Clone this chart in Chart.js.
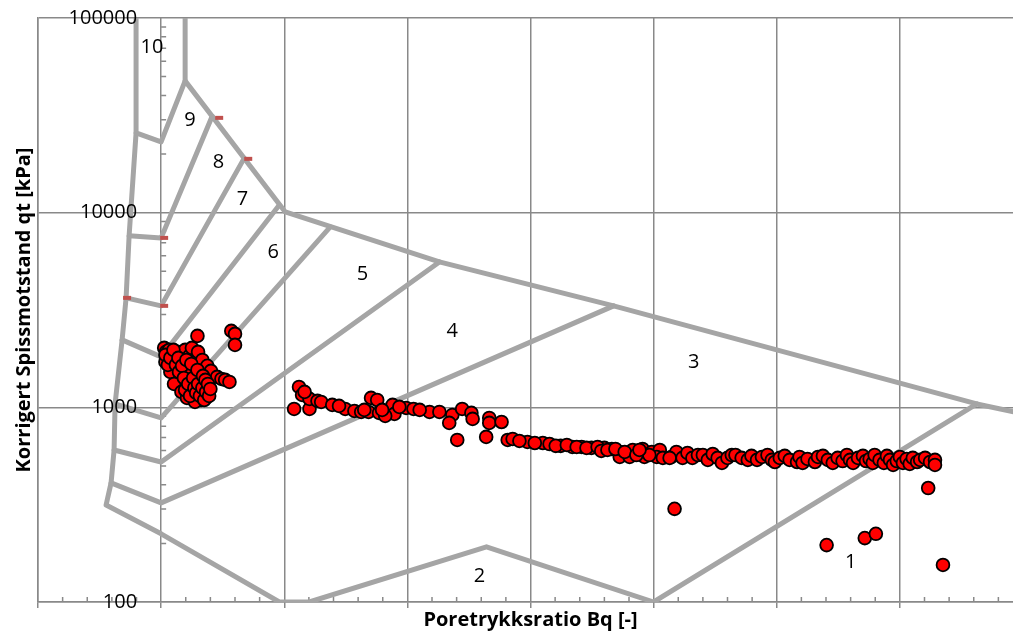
<!DOCTYPE html>
<html>
<head>
<meta charset="utf-8">
<script src="https://cdn.jsdelivr.net/npm/chart.js@4.4.0/dist/chart.umd.min.js"></script>
<style>
  html, body { margin: 0; padding: 0; background: #fff; overflow: hidden; }
  #wrap { width: 1035px; height: 633px; }
</style>
</head>
<body>
<div id="wrap"><canvas id="myChart"></canvas></div>
<script>
// axis ticks
const bqTicks = [-0.2, 0, 0.2, 0.4, 0.6, 0.8, 1.0, 1.2, 1.4];
const bqMinor = [-0.16, -0.12, -0.08, -0.04, 0.04, 0.08, 0.12, 0.16, 0.24, 0.28, 0.32, 0.36,
    0.44, 0.48, 0.52, 0.56, 0.64, 0.68, 0.72, 0.76, 0.84, 0.88, 0.92, 0.96,
    1.04, 1.08, 1.12, 1.16, 1.24, 1.28, 1.32, 1.36];
const qtTicks = [100, 1000, 10000, 100000];
const qtMinor = [200, 300, 400, 500, 600, 700, 800, 900,
    2000, 3000, 4000, 5000, 6000, 7000, 8000, 9000,
    20000, 30000, 40000, 50000, 60000, 70000, 80000, 90000];

// soil zone boundaries [Bq, qt]
const zone10 = [[-0.0407, 100000], [-0.0407, 25700], [0, 23110], [0.039, 47540], [0.039, 100000]];
const outerBoundary = [[-0.0407, 25700], [-0.052, 7601], [-0.0569, 3650], [-0.0634, 2220], [-0.0748, 1041],
    [-0.0764, 604], [-0.0813, 409], [-0.0894, 315], [0, 224], [0.192, 100], [0.2407, 100],
    [0.5285, 192], [0.80, 100], [1.325, 1041]];
const upperBoundary = [[0.039, 47540], [0.2016, 10090], [0.452, 5585], [0.735, 3321], [1.325, 1041], [1.4, 925]];
const fanLines = [
    [[-0.052, 7601], [0, 7420], [0.0829, 31280]],
    [[-0.0569, 3650], [0, 3321], [0.135, 19060]],
    [[-0.0634, 2220], [0, 1816], [0.192, 10960]],
    [[-0.0748, 1041], [0, 882], [0.2748, 8453]],
    [[-0.0764, 604], [0, 524], [0.452, 5585]],
    [[-0.0813, 409], [0, 323], [0.735, 3321]]
];
const zoneDashes = [[0.0943, 30690], [0.1415, 18900], [0.0049, 7420], [-0.0553, 3650], [0.0049, 3321]];

const zoneNames = ['10', '9', '8', '7', '6', '5', '4', '3', '2', '1'];
const zoneBq = [-0.015, 0.047, 0.093, 0.132, 0.182, 0.327, 0.473, 0.865, 0.517, 1.12];
const zoneQt = [70300, 29990, 18240, 11780, 6290, 4848, 2469, 1711, 136, 159];

// CPTU measurements [Bq, qt]
const clusterPts = [[0.005, 2020], [0.008, 1926], [0.010, 1837], [0.013, 1972], [0.013, 1752], [0.016, 1671],
    [0.018, 1859], [0.020, 1594], [0.023, 1520], [0.023, 1752], [0.026, 1926], [0.026, 1450], [0.029, 1633],
    [0.031, 1383], [0.033, 1837], [0.034, 1520], [0.036, 1319], [0.037, 1711], [0.039, 1972], [0.041, 1450],
    [0.042, 1258], [0.044, 1613], [0.046, 1837], [0.046, 1200], [0.047, 1383], [0.049, 1520], [0.050, 2020],
    [0.052, 1158], [0.054, 1711], [0.055, 1304], [0.057, 1450], [0.059, 1118], [0.060, 1926], [0.062, 1228],
    [0.062, 1594], [0.063, 1367], [0.065, 1091], [0.067, 1752], [0.068, 1172], [0.070, 1485], [0.072, 1288],
    [0.073, 1118], [0.075, 1633], [0.075, 1228], [0.078, 1383], [0.081, 1539], [0.091, 1433], [0.098, 1399],
    [0.104, 1383], [0.111, 1350], [0.059, 2328], [0.114, 2470], [0.120, 2384], [0.120, 2093],
    [0.007, 1711], [0.015, 1520], [0.021, 1319], [0.033, 1200], [0.042, 1118], [0.055, 1066],
    [0.007, 1859], [0.011, 1652], [0.015, 1795], [0.020, 1972], [0.024, 1652], [0.028, 1795], [0.029, 1520],
    [0.034, 1633], [0.037, 1416], [0.039, 1228], [0.041, 1752], [0.044, 1319], [0.047, 1145], [0.049, 1671],
    [0.052, 1416], [0.054, 1258], [0.057, 1186], [0.059, 1556], [0.060, 1319], [0.063, 1145], [0.067, 1258],
    [0.068, 1450], [0.070, 1091], [0.072, 1383], [0.073, 1200], [0.076, 1319], [0.078, 1145], [0.080, 1243]];
const trendPts = [[0.224, 1273], [0.229, 1158], [0.216, 981], [0.241, 981], [0.241, 1105], [0.254, 1079],
    [0.260, 1066], [0.278, 1029], [0.299, 981], [0.314, 958], [0.325, 947], [0.337, 947], [0.341, 1118],
    [0.351, 1091], [0.354, 936], [0.366, 958], [0.376, 1029], [0.379, 925], [0.364, 903], [0.398, 993],
    [0.410, 981], [0.436, 947], [0.452, 947], [0.473, 914], [0.468, 832], [0.489, 981], [0.504, 936],
    [0.506, 872], [0.481, 680], [0.533, 882], [0.533, 832], [0.553, 841], [0.528, 705], [0.563, 680],
    [0.571, 688], [0.595, 664], [0.620, 656], [0.649, 634], [0.668, 626], [0.683, 626], [0.699, 619],
    [0.720, 619], [0.732, 611], [0.745, 590], [0.745, 556], [0.761, 556], [0.766, 604], [0.782, 611],
    [0.785, 556], [0.797, 590], [0.810, 604], [0.805, 556], [0.815, 550], [0.829, 556], [0.837, 590],
    [0.826, 550], [0.847, 550], [0.855, 583], [0.863, 550], [0.872, 569], [0.880, 569], [0.888, 537],
    [0.896, 576], [0.904, 550], [0.911, 518], [0.920, 550], [0.927, 569], [0.933, 569], [0.943, 550],
    [0.953, 537], [0.959, 563], [0.968, 537], [0.976, 556], [0.985, 569], [0.992, 537], [0.997, 524],
    [1.005, 550], [1.013, 563], [1.021, 537], [1.033, 524], [1.037, 556], [1.042, 518], [1.050, 543],
    [1.062, 524], [1.067, 556], [1.075, 563], [1.083, 537], [1.091, 518], [1.099, 550], [1.107, 530],
    [1.114, 569], [1.119, 537], [1.124, 518], [1.132, 550], [1.140, 563], [1.145, 530], [1.151, 543],
    [1.156, 518], [1.159, 569], [1.167, 537], [1.174, 518], [1.179, 563], [1.184, 537], [1.189, 506],
    [1.195, 530], [1.200, 556], [1.205, 518], [1.211, 543], [1.216, 512], [1.221, 550], [1.228, 524],
    [1.233, 537], [1.241, 550], [1.249, 524], [1.257, 537], [1.257, 506],
    [0.582, 672], [0.607, 656], [0.631, 648], [0.641, 634], [0.659, 641], [0.675, 626], [0.691, 619],
    [0.709, 626], [0.715, 597], [0.725, 604], [0.738, 611], [0.753, 590], [0.772, 569], [0.793, 569],
    [0.777, 604], [0.233, 1200], [0.289, 1017], [0.330, 970], [0.359, 970], [0.387, 1005], [0.420, 970]];
const outlierPts = [[0.834, 301], [1.081, 196], [1.143, 213], [1.161, 224], [1.246, 385], [1.270, 155]];

const gridColor = '#898989';
const zoneColor = '#a5a5a5';
const fontFamily = "'Open Sans', 'Noto Sans', sans-serif";

const toXY = pts => pts.map(p => ({ x: p[0], y: p[1] }));

function zoneLine(pts) {
    return {
        data: toXY(pts),
        showLine: true,
        borderColor: zoneColor,
        borderWidth: 5,
        borderJoinStyle: 'round',
        borderCapStyle: 'round',
        pointRadius: 0,
        order: 3,
    };
}

const datasets = [
    {
        label: 'Målinger',
        data: toXY(clusterPts.concat(trendPts, outlierPts)),
        backgroundColor: '#ff0000',
        borderColor: '#000000',
        borderWidth: 1.8,
        pointRadius: 6.4,
        order: 1,
    },
    {
        label: 'Grensemerker',
        data: toXY(zoneDashes),
        pointStyle: 'line',
        pointRadius: 4,
        borderWidth: 4,
        borderColor: '#c0504d',
        order: 2,
    },
    zoneLine(zone10),
    zoneLine(outerBoundary),
    zoneLine(upperBoundary),
    ...fanLines.map(zoneLine),
];

// minor ticks, zone numbers and qt labels next to the Bq = 0 axis
const extras = {
    id: 'extras',
    beforeDatasetsDraw(chart) {
        const { ctx, chartArea, scales: { x, y } } = chart;
        const x0 = x.getPixelForValue(0);
        ctx.save();
        ctx.strokeStyle = gridColor;
        ctx.lineWidth = 1.5;
        ctx.beginPath();
        qtMinor.forEach(v => {
            const py = y.getPixelForValue(v);
            ctx.moveTo(x0, py);
            ctx.lineTo(x0 + 5, py);
        });
        bqMinor.forEach(v => {
            const px = x.getPixelForValue(v);
            ctx.moveTo(px, chartArea.bottom);
            ctx.lineTo(px, chartArea.bottom - 5);
        });
        ctx.stroke();
        ctx.restore();
    },
    afterDatasetsDraw(chart) {
        const { ctx, scales: { x, y } } = chart;
        ctx.save();
        ctx.fillStyle = '#000';
        ctx.font = '20px ' + fontFamily;
        ctx.textAlign = 'center';
        ctx.textBaseline = 'middle';
        zoneNames.forEach((name, i) => {
            ctx.fillText(name, x.getPixelForValue(zoneBq[i]), y.getPixelForValue(zoneQt[i]));
        });
        ctx.restore();
    },
    afterDraw(chart) {
        const { ctx, scales: { x, y } } = chart;
        const x0 = x.getPixelForValue(0);
        ctx.save();
        ctx.fillStyle = '#000';
        ctx.font = '20px ' + fontFamily;
        ctx.textAlign = 'right';
        ctx.textBaseline = 'middle';
        y.ticks.forEach(t => {
            ctx.fillText(String(t.value), x0 - 24, y.getPixelForValue(t.value));
        });
        ctx.restore();
    }
};

const config = {
    type: 'scatter',
    data: { datasets },
    options: {
        responsive: true,
        maintainAspectRatio: false,
        animation: false,
        layout: { padding: { left: 12, top: 18, right: 12, bottom: 0 } },
        plugins: {
            legend: { display: false },
            tooltip: { enabled: false },
        },
        scales: {
            x: {
                type: 'linear',
                position: 'bottom',
                min: -0.2,
                max: 1.4,
                afterBuildTicks: scale => { scale.ticks = bqTicks.map(v => ({ value: v })); },
                ticks: { display: false },
                grid: { color: gridColor, lineWidth: 1.5, drawTicks: true, tickLength: 6, tickColor: gridColor },
                border: { color: gridColor, width: 1.5 },
                title: {
                    display: true,
                    text: 'Poretrykksratio Bq [-]',
                    color: '#000',
                    font: { family: fontFamily, size: 20, weight: 'bold' },
                    padding: { top: 0, bottom: 1 },
                },
            },
            y: {
                type: 'logarithmic',
                position: 'left',
                min: 100,
                max: 100000,
                afterBuildTicks: scale => { scale.ticks = qtTicks.map(v => ({ value: v })); },
                ticks: { display: false },
                grid: { color: gridColor, lineWidth: 1.5, drawTicks: false },
                border: { color: gridColor, width: 1.5 },
                title: {
                    display: true,
                    text: 'Korrigert Spissmotstand qt [kPa]',
                    color: '#000',
                    font: { family: fontFamily, size: 20, weight: 'bold' },
                    padding: { top: 0, bottom: 2 },
                },
            },
        },
    },
    plugins: [extras],
};

const myChart = new Chart(document.getElementById('myChart'), config);
</script>
</body>
</html>
